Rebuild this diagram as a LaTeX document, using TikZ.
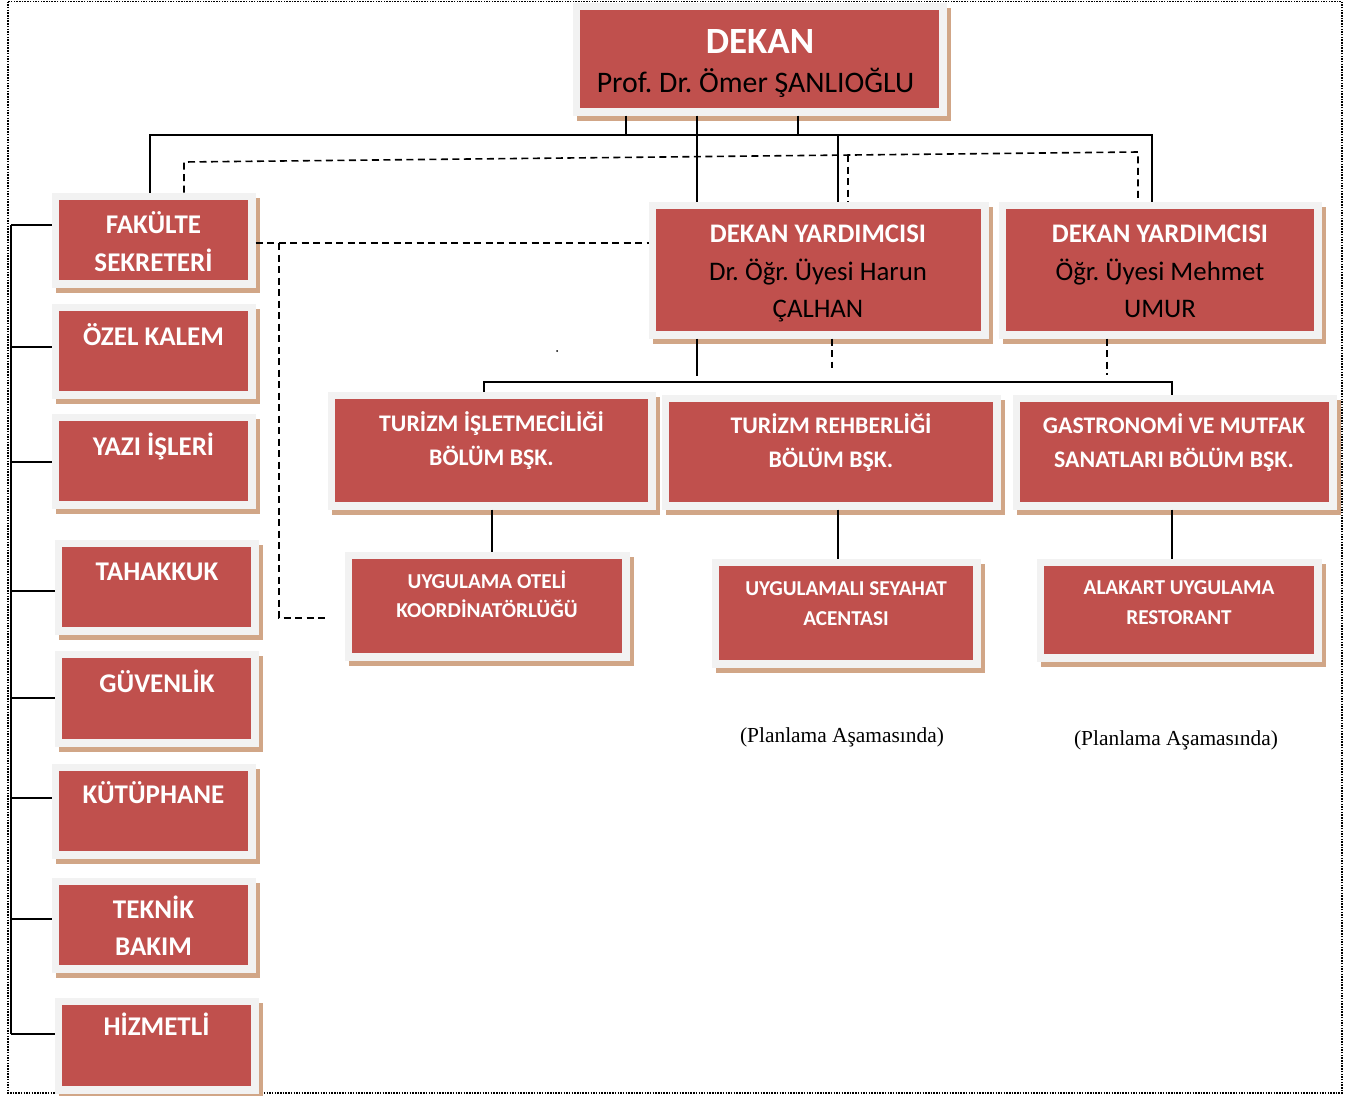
\documentclass[tikz,border=0pt]{standalone}
\usepackage{fontspec}
\setmainfont{Carlito}
\newfontfamily\tnrfont{Liberation Serif}
\frenchspacing
\definecolor{boxred}{RGB}{192,80,77}
\definecolor{framegray}{RGB}{242,242,242}
\definecolor{shadowtan}{RGB}{209,166,135}
\tikzset{
  box/.style={rectangle, draw=framegray, line width=7.5pt, fill=boxred, inner sep=0pt,
    preaction={draw=shadowtan, fill=shadowtan, line width=7.5pt, transform canvas={xshift=4pt, yshift=-5pt}}},
  wb/.style={anchor=base, inner sep=0pt, text=white, font=\bfseries\fontsize{#1}{#1}\selectfont},
  bk/.style={anchor=base, inner sep=0pt, text=black, font=\fontsize{#1}{#1}\selectfont},
  pl/.style={anchor=base, inner sep=0pt, text=black, font=\tnrfont\fontsize{21.4}{22}\selectfont},
  conn/.style={draw=black, line width=1.8pt},
  dconn/.style={draw=black, line width=1.6pt, dash pattern=on 7pt off 4.5pt},
  frameline/.style={draw=black, line width=1.5pt, dash pattern=on 1.5pt off 1.2pt}
}
\begin{document}
\begin{tikzpicture}[x=1pt,y=-1pt]
\useasboundingbox (0,0) rectangle (1357,1095);
% outer dotted frame
\draw[frameline] (8,1.5) rectangle (1342,1093);

% ---------- boxes ----------
\node[box, minimum width=366.5, minimum height=105.5] (dekan) at (759.5,59) {};
\node[box, minimum width=196.5, minimum height=87.5] (fs) at (153.5,240) {};
\node[box, minimum width=196.5, minimum height=87.5] (ozel) at (153.5,351) {};
\node[box, minimum width=196.5, minimum height=87.5] (yazi) at (153.5,461) {};
\node[box, minimum width=196.5, minimum height=87.5] (tahakkuk) at (156.5,587) {};
\node[box, minimum width=196.5, minimum height=88.5] (guvenlik) at (156.5,698.5) {};
\node[box, minimum width=196.5, minimum height=87.5] (kutup) at (153.5,811) {};
\node[box, minimum width=196.5, minimum height=87.5] (teknik) at (153.5,925) {};
\node[box, minimum width=196.5, minimum height=88.5] (hizmetli) at (156.5,1045.5) {};
\node[box, minimum width=332.5, minimum height=129.5] (dy1) at (818.5,270) {};
\node[box, minimum width=315.5, minimum height=129.5] (dy2) at (1160,270) {};
\node[box, minimum width=320.5, minimum height=110.5] (ti) at (491.5,450.5) {};
\node[box, minimum width=331.5, minimum height=107.5] (tr) at (831,452) {};
\node[box, minimum width=316.5, minimum height=107.5] (gm) at (1174.5,452) {};
\node[box, minimum width=277.5, minimum height=101.5] (uo) at (487,606) {};
\node[box, minimum width=261.5, minimum height=101.5] (usa) at (846,613) {};
\node[box, minimum width=277.5, minimum height=95.5] (ar) at (1179,610) {};

% ---------- texts ----------
\node[wb=37] (dekan-t1) at (760,53) {DEKAN};
\node[bk=29.8] (dekan-t2) at (755.5,92) {Prof. Dr. Ömer ŞANLIOĞLU};

\node[wb=27] (fs-t1) at (153.5,233) {FAKÜLTE};
\node[wb=27] (fs-t2) at (153.5,271) {SEKRETERİ};
\node[wb=27] (ozel-t) at (153.5,345) {ÖZEL KALEM};
\node[wb=27] (yazi-t) at (153.5,455) {YAZI İŞLERİ};
\node[wb=27] (tahakkuk-t) at (157,580) {TAHAKKUK};
\node[wb=27] (guvenlik-t) at (157,692) {GÜVENLİK};
\node[wb=27] (kutup-t) at (153.5,803) {KÜTÜPHANE};
\node[wb=27] (teknik-t1) at (153.5,918) {TEKNİK};
\node[wb=27] (teknik-t2) at (153.5,955) {BAKIM};
\node[wb=27] (hizmetli-t) at (156.5,1035) {HİZMETLİ};

\node[wb=26.8] (dy1-t1) at (818,242) {DEKAN YARDIMCISI};
\node[bk=26.8] (dy1-t2) at (818,280) {Dr. Öğr. Üyesi Harun};
\node[bk=26.8] (dy1-t3) at (818,317) {ÇALHAN};
\node[wb=26.8] (dy2-t1) at (1160,242) {DEKAN YARDIMCISI};
\node[bk=26.8] (dy2-t2) at (1160,280) {Öğr. Üyesi Mehmet};
\node[bk=26.8] (dy2-t3) at (1160,317) {UMUR};

\node[wb=23.8] (ti-t1) at (491.5,431) {TURİZM İŞLETMECİLİĞİ};
\node[wb=23.8] (ti-t2) at (491.5,465) {BÖLÜM BŞK.};
\node[wb=23.8] (tr-t1) at (831,433) {TURİZM REHBERLİĞİ};
\node[wb=23.8] (tr-t2) at (831,467) {BÖLÜM BŞK.};
\node[wb=23.8] (gm-t1) at (1174,433) {GASTRONOMİ VE MUTFAK};
\node[wb=23.8] (gm-t2) at (1174,467) {SANATLARI BÖLÜM BŞK.};

\node[wb=21.2] (uo-t1) at (487,588) {UYGULAMA OTELİ};
\node[wb=21.2] (uo-t2) at (487,617) {KOORDİNATÖRLÜĞÜ};
\node[wb=21.2] (usa-t1) at (846,595) {UYGULAMALI SEYAHAT};
\node[wb=21.2] (usa-t2) at (846,625) {ACENTASI};
\node[wb=21.2] (ar-t1) at (1179,594) {ALAKART UYGULAMA};
\node[wb=21.2] (ar-t2) at (1179,624) {RESTORANT};

\node[pl] (plan1) at (842,742) {(Planlama Aşamasında)};
\node[pl] (plan2) at (1176,745) {(Planlama Aşamasında)};

% ---------- solid connectors from DEKAN ----------
\coordinate (busL) at (150,135);
\coordinate (busR) at (1152,135);
\draw[conn] (fs.north -| busL) -- (busL) -- (busR) -- (dy2.north -| busR);
\coordinate (s1) at (626,135);
\coordinate (s3) at (798,135);
\draw[conn] (dekan.south -| s1) -- (s1);
\draw[conn] (dekan.south -| s3) -- (s3);
\coordinate (v1) at (697,135);
\draw[conn] (dekan.south -| v1) -- (dy1.north -| v1);
\coordinate (v2) at (838,135);
\draw[conn] (v2) -- (dy1.north -| v2);

% ---------- dashed connectors ----------
\coordinate (dl) at (184,162);
\coordinate (dr) at (1138,152);
\draw[dconn] (fs.north -| dl) -- (dl) -- (dr) -- (dy2.north -| dr);
\coordinate (dm) at (848,155.1);
\draw[dconn] (dm) -- (dy1.north -| dm);
\coordinate (h1) at (0,243);
\draw[dconn] (fs.east |- h1) -- (dy1.west |- h1);
\coordinate (dv) at (279,243);
\coordinate (dh) at (328,618);
\draw[dconn] (dv) -- (dv |- dh) -- (dh);

% ---------- from deputies to departments ----------
\coordinate (b1) at (697,376);
\draw[conn] (dy1.south -| b1) -- (b1);
\coordinate (b2) at (832,368);
\draw[dconn] (dy1.south -| b2) -- (b2);
\coordinate (b3) at (1107,375);
\draw[dconn] (dy2.south -| b3) -- (b3);
\coordinate (mL) at (484,382);
\coordinate (mR) at (1172,382);
\draw[conn] (ti.north -| mL) -- (mL) -- (mR) -- (gm.north -| mR);

% ---------- departments to units ----------
\coordinate (c1) at (492,0);
\draw[conn] (ti.south -| c1) -- (uo.north -| c1);
\coordinate (c2) at (838,0);
\draw[conn] (tr.south -| c2) -- (usa.north -| c2);
\coordinate (c3) at (1172,0);
\draw[conn] (gm.south -| c3) -- (ar.north -| c3);

% ---------- left spine ----------
\coordinate (l1) at (11,225);
\coordinate (l2) at (11,347);
\coordinate (l3) at (11,462);
\coordinate (l4) at (11,591);
\coordinate (l5) at (11,698);
\coordinate (l6) at (11,798);
\coordinate (l7) at (11,919);
\coordinate (l8) at (11,1034);
\draw[conn] (l1) -- (l8);
\draw[conn] (l1) -- (l1 -| fs.west);
\draw[conn] (l2) -- (l2 -| ozel.west);
\draw[conn] (l3) -- (l3 -| yazi.west);
\draw[conn] (l4) -- (l4 -| tahakkuk.west);
\draw[conn] (l5) -- (l5 -| guvenlik.west);
\draw[conn] (l6) -- (l6 -| kutup.west);
\draw[conn] (l7) -- (l7 -| teknik.west);
\draw[conn] (l8) -- (l8 -| hizmetli.west);

% stray dot
\fill (557,351) circle (1);
\end{tikzpicture}
\end{document}
